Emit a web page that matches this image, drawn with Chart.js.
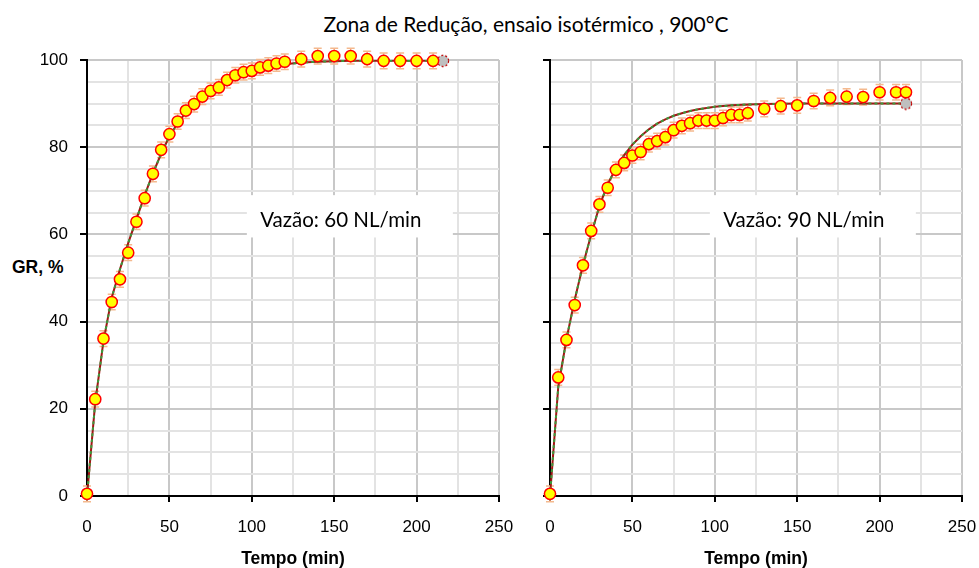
<!DOCTYPE html>
<html>
<head>
<meta charset="utf-8">
<script src="https://cdn.jsdelivr.net/npm/chart.js@4.4.1/dist/chart.umd.min.js"></script>
<style>
  body { margin: 0; background: #fff; width: 979px; height: 568px; position: relative; overflow: hidden; }
  canvas { position: absolute; top: 0; }
  #left { left: 0; }
  #right { left: 520px; }
  .title { position: absolute; left: 526px; top: 13px; transform: translateX(-50%); white-space: nowrap;
           font: 21px/1 Lato, sans-serif; color: #000; }
  .ylabel { position: absolute; left: 12px; top: 259px; font: bold 17.5px/1 "Liberation Sans", Arial, sans-serif; color: #000; }
</style>
</head>
<body>
<div class="title">Zona de Redução, ensaio isotérmico , 900°C</div>
<div class="ylabel">GR, %</div>
<canvas id="left" width="520" height="568"></canvas>
<canvas id="right" width="459" height="568"></canvas>
<script>
// tick labels
const xTicks = [0, 50, 100, 150, 200, 250];
const yTicks = [0, 20, 40, 60, 80, 100];
const ERR = 1.8; // half height of the error bars (GR %)

// Vazão 60 NL/min - measured
const t60  = [0, 5, 10, 15, 20, 25, 30, 35, 40, 45, 50, 55, 60, 65, 70, 75, 80, 85, 90, 95, 100, 105, 110, 115, 120,
              130, 140, 150, 160, 170, 180, 190, 200, 210];
const gr60 = [0.5, 22.2, 36.1, 44.5, 49.7, 55.8, 62.9, 68.3, 73.9, 79.4, 83.0, 85.9, 88.4, 89.9, 91.6, 92.9, 93.7, 95.4,
              96.5, 97.2, 97.5, 98.3, 98.7, 99.2, 99.6, 100.2, 100.9, 100.9, 100.9, 100.2, 99.8, 99.8, 99.8, 99.8];
// Vazão 60 NL/min - model
const tFit60 = [0, 5, 10, 15, 20, 25, 30, 35, 40, 45, 50, 55, 60, 65, 70, 75, 80, 85, 90, 95, 100, 110, 120, 130, 140,
                150, 160, 180, 200, 216];
const fit60  = [0, 21.5, 35.5, 45.5, 52, 58, 63.5, 69, 74, 78.5, 82.5, 85.5, 88, 90, 91.8, 93.2, 94.4, 95.4, 96.2, 96.9,
                97.5, 98.4, 99, 99.4, 99.6, 99.7, 99.8, 99.8, 99.8, 99.8];
const end60 = [216, 99.8];

// Vazão 90 NL/min - measured
const t90  = [0, 5, 10, 15, 20, 25, 30, 35, 40, 45, 50, 55, 60, 65, 70, 75, 80, 85, 90, 95, 100, 105, 110, 115, 120,
              130, 140, 150, 160, 170, 180, 190, 200, 210, 216];
const gr90 = [0.5, 27.2, 35.8, 43.8, 52.9, 60.8, 66.9, 70.7, 74.8, 76.4, 78.1, 78.9, 80.7, 81.4, 82.3, 83.9, 84.9, 85.5,
              86.1, 86.1, 86.1, 86.7, 87.4, 87.4, 87.8, 88.8, 89.4, 89.6, 90.6, 91.3, 91.6, 91.5, 92.6, 92.6, 92.6];
// Vazão 90 NL/min - model
const tFit90 = [0, 5, 10, 15, 20, 25, 30, 35, 40, 45, 50, 55, 60, 65, 70, 75, 80, 85, 90, 100, 110, 120, 130, 150, 180, 216];
const fit90  = [0, 25, 36, 45, 53, 60, 66.5, 71.5, 75.2, 78.2, 80.6, 82.5, 84.1, 85.4, 86.4, 87.2, 87.8, 88.3, 88.7,
                89.3, 89.6, 89.8, 89.9, 90, 90, 90];
const end90 = [216, 90];

const pts = (xs, ys) => xs.map((x, i) => ({ x, y: ys[i] }));

function grayDot() {
    const c = document.createElement('canvas');
    c.width = c.height = 14;
    const g = c.getContext('2d');
    g.beginPath();
    g.arc(7, 7, 5.6, 0, Math.PI * 2);
    g.fillStyle = '#bfbfbf';
    g.fill();
    g.setLineDash([2, 2]);
    g.strokeStyle = '#c00000';
    g.lineWidth = 1.2;
    g.stroke();
    return c;
}

const errorBars = {
    id: 'errorBars',
    beforeDatasetsDraw(chart) {
        const { ctx, scales: { x, y } } = chart;
        ctx.save();
        ctx.strokeStyle = '#f4b98e';
        ctx.lineWidth = 1.5;
        chart.data.datasets[0].data.forEach(p => {
            const px = x.getPixelForValue(p.x);
            const y1 = y.getPixelForValue(p.y - ERR);
            const y2 = y.getPixelForValue(p.y + ERR);
            ctx.beginPath();
            ctx.moveTo(px, y1); ctx.lineTo(px, y2);
            ctx.moveTo(px - 4, y1); ctx.lineTo(px + 4, y1);
            ctx.moveTo(px - 4, y2); ctx.lineTo(px + 4, y2);
            ctx.stroke();
        });
        ctx.restore();
    }
};

const note = {
    id: 'note',
    afterDraw(chart, args, o) {
        const { ctx, scales: { x, y } } = chart;
        const l = x.getPixelForValue(97), r = x.getPixelForValue(222);
        const t = y.getPixelForValue(69), b = y.getPixelForValue(59.3);
        ctx.save();
        ctx.fillStyle = '#fff';
        ctx.fillRect(l, t, r - l, b - t);
        ctx.fillStyle = '#000';
        ctx.font = '20.5px Lato, sans-serif';
        ctx.textAlign = 'center';
        ctx.textBaseline = 'alphabetic';
        ctx.fillText(o.text, x.getPixelForValue(154), y.getPixelForValue(61.6));
        ctx.restore();
    }
};

function panel(id, data, fitData, end, label, yWidth, padRight, showY) {
    return new Chart(document.getElementById(id), {
        type: 'scatter',
        data: {
            datasets: [
                {
                    data: data,
                    pointRadius: 5.6,
                    pointBackgroundColor: '#ffff00',
                    pointBorderColor: '#ff0000',
                    pointBorderWidth: 1.5,
                    clip: false
                },
                {
                    data: [{ x: end[0], y: end[1] }],
                    pointStyle: grayDot(),
                    clip: false
                },
                {
                    data: fitData,
                    showLine: true,
                    pointRadius: 0,
                    borderColor: '#3c9a3c',
                    borderWidth: 2,
                    borderDash: [3, 3]
                },
                {
                    data: fitData,
                    showLine: true,
                    pointRadius: 0,
                    borderColor: '#a31515',
                    borderWidth: 2
                }
            ]
        },
        options: {
            responsive: false,
            animation: false,
            layout: { padding: { top: 60, right: padRight, left: 0, bottom: 0 } },
            plugins: {
                legend: { display: false },
                tooltip: { enabled: false },
                note: { text: label }
            },
            scales: {
                x: {
                    type: 'linear',
                    min: 0, max: 250,
                    afterFit: s => { s.height = 72; s.paddingLeft = 0; s.paddingRight = 0; },
                    border: { color: '#000', width: 2 },
                    grid: {
                        lineWidth: 2,
                        color: c => xTicks.includes(c.tick.value) ? '#c8c8c8' : '#e3e3e3',
                        tickColor: c => xTicks.includes(c.tick.value) ? '#000' : 'rgba(0,0,0,0)',
                        tickLength: 6,
                        tickWidth: 2
                    },
                    ticks: {
                        stepSize: 25,
                        autoSkip: false,
                        maxRotation: 0,
                        padding: 15,
                        color: '#000',
                        font: { family: '"Liberation Sans", Arial, sans-serif', size: 17 },
                        callback: v => xTicks.includes(v) ? String(v) : ''
                    },
                    title: {
                        display: true,
                        text: 'Tempo (min)',
                        color: '#000',
                        padding: { top: 0, bottom: 0 },
                        font: { family: '"Liberation Sans", Arial, sans-serif', size: 17.5, weight: 'bold', lineHeight: 1 }
                    }
                },
                y: {
                    min: 0, max: 100,
                    afterFit: s => { s.width = yWidth; s.paddingTop = 0; s.paddingBottom = 0; },
                    border: { color: '#000', width: 2 },
                    grid: {
                        lineWidth: 2,
                        color: c => yTicks.includes(c.tick.value) ? '#c8c8c8' : '#e3e3e3',
                        tickColor: c => yTicks.includes(c.tick.value) ? '#000' : 'rgba(0,0,0,0)',
                        tickLength: 7,
                        tickWidth: 2
                    },
                    ticks: {
                        stepSize: 5,
                        autoSkip: false,
                        padding: 12,
                        color: '#000',
                        font: { family: '"Liberation Sans", Arial, sans-serif', size: 17 },
                        callback: v => (showY && yTicks.includes(v)) ? String(v) : ''
                    }
                }
            }
        },
        plugins: [errorBars, note]
    });
}

panel('left', pts(t60, gr60), pts(tFit60, fit60), end60, 'Vazão: 60 NL/min', 87, 21, true);
panel('right', pts(t90, gr90), pts(tFit90, fit90), end90, 'Vazão: 90 NL/min', 30, 17, false);
</script>
</body>
</html>
